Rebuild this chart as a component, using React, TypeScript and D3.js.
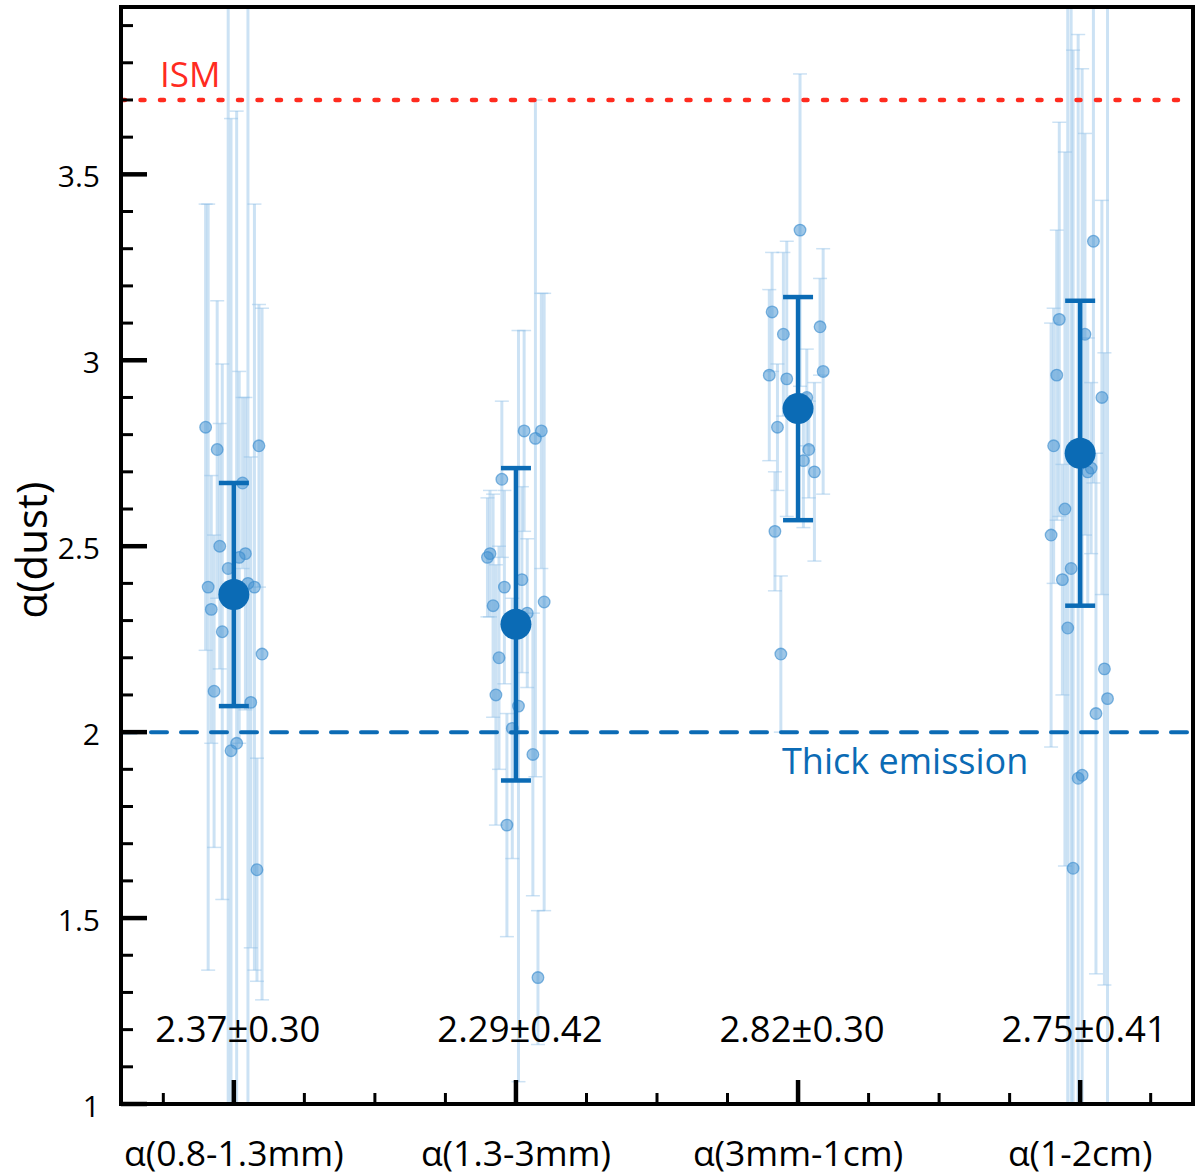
import React from "react";
import * as d3 from "d3";

// ---- data ----
const categories = ["α(0.8-1.3mm)", "α(1.3-3mm)", "α(3mm-1cm)", "α(1-2cm)"];
const categoryPos = [1, 2, 3, 4];
const meanValues = [2.37, 2.29, 2.87, 2.75];
const meanErrors = [0.3, 0.42, 0.3, 0.41];
const statLabels = ["2.37±0.30", "2.29±0.42", "2.82±0.30", "2.75±0.41"];

const yMajorTicks = [1, 1.5, 2, 2.5, 3, 3.5];
const yTickLabels = ["1", "1.5", "2", "2.5", "3", "3.5"];
const ismLevel = 3.7;
const thickLevel = 2.0;

// individual sources (x jittered position, alpha, error)
const srcX1 = [0.9, 0.941, 1.089, 1.031, 0.95, 1.041, 1.019, 0.98, 0.909, 1.05, 1.073, 0.92, 0.959, 1.1, 0.93, 1.06, 1.01, 0.99, 1.082];
const srcY1 = [2.82, 2.76, 2.77, 2.67, 2.5, 2.48, 2.47, 2.44, 2.39, 2.4, 2.39, 2.33, 2.27, 2.21, 2.11, 2.08, 1.97, 1.95, 1.63];
const srcE1 = [0.6, 0.4, 0.38, 0.23, 0.33, 0.42, 0.5, 1.6, 1.03, 1.6, 1.03, 0.36, 0.72, 0.93, 0.42, 0.66, 1.7, 1.7, 0.3];

const srcX2 = [2.029, 2.069, 2.09, 1.95, 1.908, 1.899, 1.959, 2.021, 2.1, 1.919, 2.04, 1.94, 1.929, 2.009, 1.987, 2.06, 1.968, 2.078];
const srcY2 = [2.81, 2.79, 2.81, 2.68, 2.48, 2.47, 2.39, 2.41, 2.35, 2.34, 2.32, 2.2, 2.1, 2.07, 2.01, 1.94, 1.75, 1.34];
const srcE2 = [0.27, 0.91, 0.37, 0.21, 0.17, 0.16, 0.26, 0.25, 0.83, 0.3, 0.2, 0.3, 0.35, 1.01, 0.35, 0.38, 0.3, 0.18];

const srcX3 = [3.007, 2.908, 2.948, 3.078, 2.898, 3.089, 2.96, 3.031, 2.927, 3.038, 3.019, 3.058, 2.918, 2.939];
const srcY3 = [3.35, 3.13, 3.07, 3.09, 2.96, 2.97, 2.95, 2.9, 2.82, 2.76, 2.73, 2.7, 2.54, 2.21];
const srcE3 = [0.42, 0.16, 0.22, 0.13, 0.23, 0.33, 0.37, 0.13, 0.17, 0.13, 0.18, 0.24, 0.16, 0.21];

const srcX4 = [4.047, 3.926, 4.017, 3.917, 4.077, 3.906, 4.039, 4.027, 3.946, 3.897, 3.968, 3.937, 3.956, 4.086, 4.097, 4.056, 3.993, 4.007, 3.975];
const srcY4 = [3.32, 3.11, 3.07, 2.96, 2.9, 2.77, 2.71, 2.7, 2.6, 2.53, 2.44, 2.41, 2.28, 2.17, 2.09, 2.05, 1.876, 1.884, 1.634];
const srcE4 = [0.65, 0.53, 0.54, 0.39, 0.53, 0.37, 0.23, 0.36, 0.96, 0.57, 1.6, 0.31, 1.7, 0.85, 1.9, 0.7, 2.0, 1.9, 2.2];

const srcXs = [srcX1, srcX2, srcX3, srcX4];
const srcYs = [srcY1, srcY2, srcY3, srcY4];
const srcEs = [srcE1, srcE2, srcE3, srcE4];

const FONT = "'Open Sans', 'Noto Sans', sans-serif";
const BLUE = "#0b6bb5";
const RED = "#ff2b1f";

const W = 1200;
const H = 1175;
const L = 121;
const R = 1193;
const T = 7;
const B = 1104;

export default function App() {
  const x = d3.scaleLinear().domain([0.6, 4.4]).range([L, R]);
  const y = d3.scaleLinear().domain([1, 3.95]).range([B, T]);

  const xMinor = d3.range(0.75, 4.3, 0.25).filter((v) => Math.abs(v - Math.round(v)) > 0.01);
  const yMinor = d3.range(1.1, 3.95, 0.1).filter((v) => Math.abs(v * 2 - Math.round(v * 2)) > 0.01);

  const points: { x: number; y: number; e: number }[] = [];
  srcXs.forEach((xs, g) => xs.forEach((xv, i) => points.push({ x: xv, y: srcYs[g][i], e: srcEs[g][i] })));

  return (
    <div style={{ position: "absolute", left: 0, top: 0 }}>
      <svg width={W} height={H} style={{ display: "block", background: "#fff" }} fontFamily={FONT}>
        <defs>
          <clipPath id="plotclip">
            <rect x={L} y={T} width={R - L} height={B - T} />
          </clipPath>
        </defs>
        <g clipPath="url(#plotclip)">
          {/* faint individual error bars */}
          {points.map((p, i) => (
            <g key={"eb" + i} stroke="#8fbfe6" strokeOpacity={0.45} fill="none">
              <line x1={x(p.x)} x2={x(p.x)} y1={y(p.y - p.e)} y2={y(p.y + p.e)} strokeWidth={3} />
              <line x1={x(p.x) - 7} x2={x(p.x) + 7} y1={y(p.y - p.e)} y2={y(p.y - p.e)} strokeWidth={1.5} />
              <line x1={x(p.x) - 7} x2={x(p.x) + 7} y1={y(p.y + p.e)} y2={y(p.y + p.e)} strokeWidth={1.5} />
            </g>
          ))}
          {points.map((p, i) => (
            <circle key={"pt" + i} cx={x(p.x)} cy={y(p.y)} r={5.8} fill="#3f8fd0" fillOpacity={0.5} stroke="#3f8fd0" strokeOpacity={0.65} strokeWidth={1.3} />
          ))}
          {/* reference lines */}
          <line x1={L} x2={R} y1={y(ismLevel)} y2={y(ismLevel)} stroke={RED} strokeWidth={4.5} strokeDasharray="4 15.5" strokeLinecap="round" />
          <line x1={L} x2={R} y1={y(thickLevel)} y2={y(thickLevel)} stroke={BLUE} strokeWidth={4} strokeDasharray="16 14" strokeLinecap="round" />
          {/* means */}
          {categoryPos.map((c, i) => (
            <g key={"m" + i} stroke={BLUE} strokeWidth={4.5}>
              <line x1={x(c)} x2={x(c)} y1={y(meanValues[i] - meanErrors[i])} y2={y(meanValues[i] + meanErrors[i])} />
              <line x1={x(c) - 15} x2={x(c) + 15} y1={y(meanValues[i] - meanErrors[i])} y2={y(meanValues[i] - meanErrors[i])} />
              <line x1={x(c) - 15} x2={x(c) + 15} y1={y(meanValues[i] + meanErrors[i])} y2={y(meanValues[i] + meanErrors[i])} />
              <circle cx={x(c)} cy={y(meanValues[i])} r={15.5} fill={BLUE} stroke="none" />
            </g>
          ))}
        </g>

        {/* annotations */}
        <text x={160} y={87} fill={RED} fontSize={35}>ISM</text>
        <text x={782} y={774} fill={BLUE} fontSize={36}>Thick emission</text>
        {categoryPos.map((c, i) => (
          <text key={"s" + i} x={x(c) + 4} y={1042} textAnchor="middle" fontSize={36.5} fill="#000">
            {statLabels[i]}
          </text>
        ))}

        {/* axes ticks */}
        {yMajorTicks.map((v, i) => (
          <g key={"yt" + i}>
            <line x1={L} x2={L + 26} y1={y(v)} y2={y(v)} stroke="#000" strokeWidth={4.5} />
            <text x={100} y={y(v) + 13} textAnchor="end" fontSize={30} fill="#000">
              {yTickLabels[i]}
            </text>
          </g>
        ))}
        {yMinor.map((v, i) => (
          <line key={"ym" + i} x1={L} x2={L + 12} y1={y(v)} y2={y(v)} stroke="#000" strokeWidth={3} />
        ))}
        {categoryPos.map((c, i) => (
          <g key={"xt" + i}>
            <line x1={x(c)} x2={x(c)} y1={B} y2={B - 24} stroke="#000" strokeWidth={4.5} />
            <text x={x(c)} y={1166} textAnchor="middle" fontSize={35.5} fill="#000">
              {categories[i]}
            </text>
          </g>
        ))}
        {xMinor.map((v, i) => (
          <line key={"xm" + i} x1={x(v)} x2={x(v)} y1={B} y2={B - 11} stroke="#000" strokeWidth={3} />
        ))}

        <rect x={L} y={T} width={R - L} height={B - T} fill="none" stroke="#000" strokeWidth={4} />

        <text transform={`translate(47,${550}) rotate(-90)`} textAnchor="middle" fontSize={42} fill="#000">
          α(dust)
        </text>
      </svg>
    </div>
  );
}
